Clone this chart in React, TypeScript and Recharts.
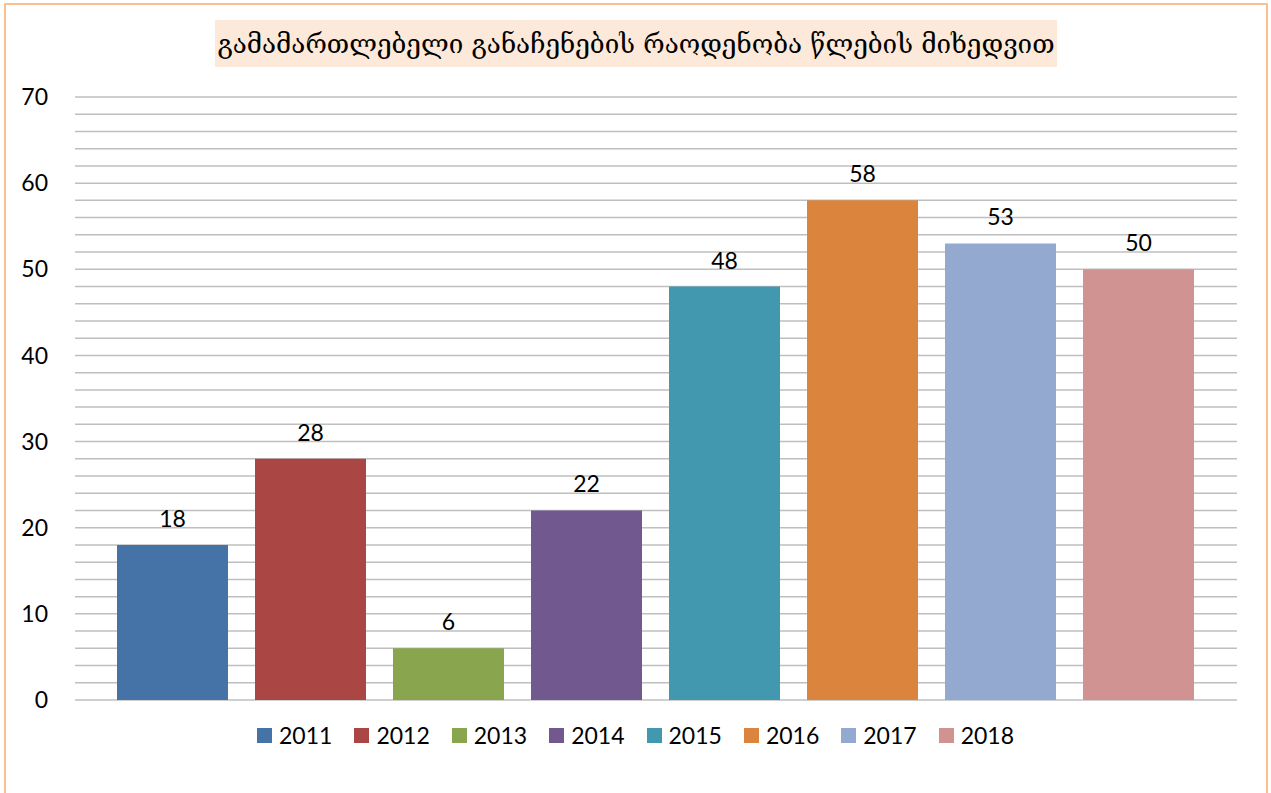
import React from 'react';
import { BarChart, Bar, XAxis, YAxis, CartesianGrid, Legend, LabelList } from 'recharts';

const years = ['2011', '2012', '2013', '2014', '2015', '2016', '2017', '2018'];
const values = [18, 28, 6, 22, 48, 58, 53, 50];
const colors = ['#4572A7', '#AA4643', '#89A54E', '#71588F', '#4198AF', '#DB843D', '#93A9CF', '#D19392'];
const yTicks = [0, 10, 20, 30, 40, 50, 60, 70];
const gridValues = [0, 2, 4, 6, 8, 10, 12, 14, 16, 18, 20, 22, 24, 26, 28, 30, 32, 34, 36, 38, 40, 42, 44, 46, 48, 50, 52, 54, 56, 58, 60, 62, 64, 66, 68, 70];
const yMax = 70;
const title = 'გამამართლებელი განაჩენების რაოდენობა წლების მიხედვით';

const row: Record<string, any> = { name: 'all' };
years.forEach((y, i) => {
  row[y] = values[i];
});
const data = [row];

const font = 'Lato, "Open Sans", sans-serif';

function gridCoords(props: any) {
  const scale = props?.yAxis?.scale;
  if (scale && typeof scale === 'function') {
    return gridValues.map((v) => scale(v));
  }
  const { offset } = props;
  return gridValues.map((v) => offset.top + offset.height * (1 - v / yMax));
}

function YearLegend() {
  return (
    <div style={{ display: 'flex', justifyContent: 'center', alignItems: 'center', height: 24 }}>
      {years.map((y, i) => (
        <div key={y} style={{ display: 'flex', alignItems: 'center', marginRight: i < years.length - 1 ? 22 : 0 }}>
          <span style={{ display: 'inline-block', width: 15, height: 15, background: colors[i], marginRight: 7 }} />
          <span style={{ fontFamily: font, fontSize: 23, color: '#000', lineHeight: '24px' }}>{y}</span>
        </div>
      ))}
    </div>
  );
}

export default function App() {
  return (
    <div style={{ position: 'absolute', left: 0, top: 0, width: 1271, height: 793, overflow: 'hidden', background: '#fff' }}>
      <div
        style={{
          position: 'absolute',
          left: 4,
          top: 3,
          width: 1260,
          height: 820,
          border: '2px solid #FAC090',
        }}
      />
      <div
        style={{
          position: 'absolute',
          left: 215,
          top: 20,
          width: 842,
          height: 47,
          background: '#FDE9D9',
          display: 'flex',
          alignItems: 'center',
          justifyContent: 'center',
          fontFamily: '"DejaVu Serif", serif',
          fontSize: 26,
          color: '#000',
          whiteSpace: 'nowrap',
        }}
      >
        {title}
      </div>
      <div style={{ position: 'absolute', left: 0, top: 0 }}>
        <BarChart
          width={1271}
          height={793}
          data={data}
          margin={{ top: 97, right: 34, left: 0, bottom: 69 }}
          barCategoryGap={42}
          barGap={27}
        >
          <CartesianGrid
            vertical={false}
            horizontalCoordinatesGenerator={gridCoords}
            stroke="#BFBFBF"
            strokeWidth={1.5}
          />
          <XAxis dataKey="name" tick={false} tickLine={false} height={0} axisLine={{ stroke: '#8C8C8C', strokeWidth: 2 }} />
          <YAxis
            domain={[0, yMax]}
            ticks={yTicks}
            width={75}
            tickLine={false}
            axisLine={false}
            tickMargin={21}
            tick={{ fontFamily: font, fontSize: 23, fill: '#000' }}
          />
          <Legend
            verticalAlign="bottom"
            content={() => <YearLegend />}
            wrapperStyle={{ position: 'absolute', left: 0, width: 1271, top: 723, bottom: 'auto' }}
          />
          {years.map((y, i) => (
            <Bar key={y} dataKey={y} name={y} fill={colors[i]} isAnimationActive={false}>
              <LabelList dataKey={y} position="top" offset={18} style={{ fontFamily: font, fontSize: 23, fill: '#000' }} />
            </Bar>
          ))}
        </BarChart>
      </div>
    </div>
  );
}
